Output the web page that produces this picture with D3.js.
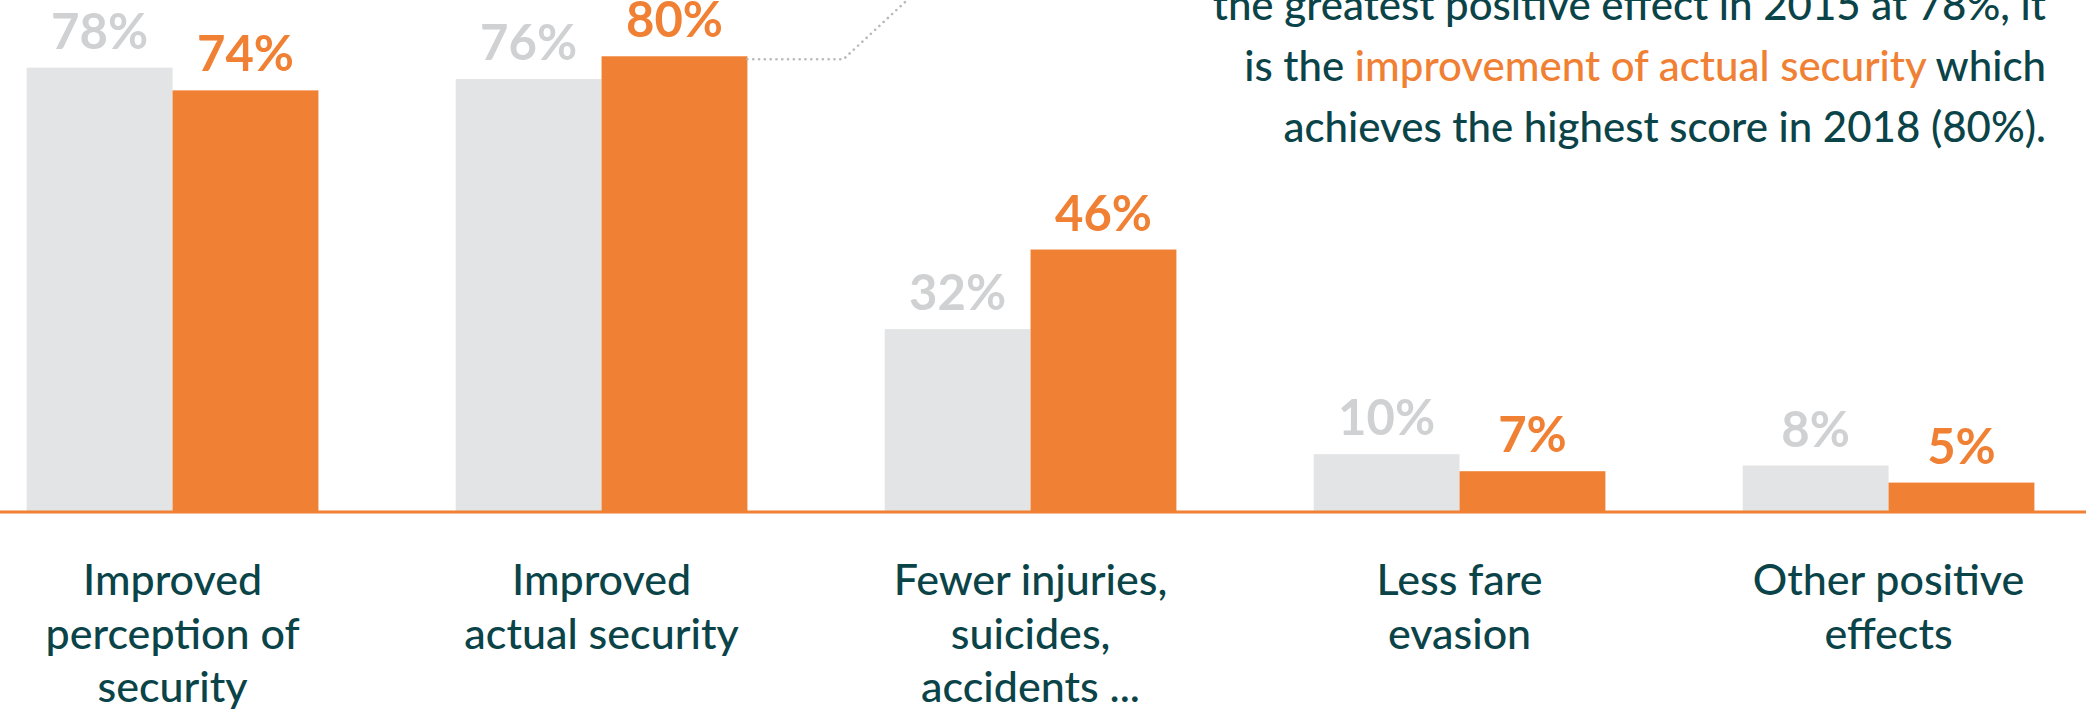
<!DOCTYPE html>
<html>
<head>
<meta charset="utf-8">
<script src="https://cdn.jsdelivr.net/npm/d3@7"></script>
<style>
  html, body { margin: 0; padding: 0; background: #ffffff; }
  svg { display: block; }
</style>
</head>
<body>
<div id="chart"></div>
<script>
// ---- data ----
const categories = [
  "Improved perception of security",
  "Improved actual security",
  "Fewer injuries, suicides, accidents ...",
  "Less fare evasion",
  "Other positive effects"
];
const categoryLines = [
  ["Improved", "perception of", "security"],
  ["Improved", "actual security"],
  ["Fewer injuries,", "suicides,", "accidents ..."],
  ["Less fare", "evasion"],
  ["Other positive", "effects"]
];
const years = ["2015", "2018"];
const values2015 = [78, 76, 32, 10, 8];
const values2018 = [74, 80, 46, 7, 5];
const annotationLines = [
  [{t: "the greatest positive effect in 2015 at 78%, it", h: false}],
  [{t: "is the ", h: false}, {t: "improvement of actual security", h: true}, {t: " which", h: false}],
  [{t: "achieves the highest score in 2018 (80%).", h: false}]
];

// ---- styles ----
const W = 2097, H = 720;
const GREY = "#e3e4e5", GREY_TEXT = "#d0d1d3", ORANGE = "#f08033", TEAL = "#0b4448";
const FONT = "Lato, 'Open Sans', sans-serif";

const svg = d3.select("#chart").append("svg")
  .attr("width", W).attr("height", H);
svg.append("rect").attr("width", W).attr("height", H).attr("fill", "#fff");

const x0 = d3.scaleBand().domain(categories).range([26.7, 2034.4])
  .paddingInner(0.32).paddingOuter(0);
const x1 = d3.scaleBand().domain(years).range([0, x0.bandwidth()]);
const baseY = 511;
const y = d3.scaleLinear().domain([0, 100]).range([baseY, baseY - 568.4]);

const rows = categories.map((c, i) => ({
  cat: c,
  vals: [
    {year: "2015", v: values2015[i]},
    {year: "2018", v: values2018[i]}
  ]
}));

const groups = svg.append("g").selectAll("g").data(rows).join("g")
  .attr("transform", d => `translate(${x0(d.cat)},0)`);

groups.selectAll("rect").data(d => d.vals).join("rect")
  .attr("x", d => x1(d.year))
  .attr("y", d => y(d.v))
  .attr("width", x1.bandwidth())
  .attr("height", d => baseY - y(d.v))
  .attr("fill", d => d.year === "2015" ? GREY : ORANGE);

groups.selectAll("text").data(d => d.vals).join("text")
  .attr("x", d => x1(d.year) + x1.bandwidth() / 2)
  .attr("y", d => y(d.v) - 19)
  .attr("text-anchor", "middle")
  .attr("font-family", FONT)
  .attr("font-size", 49)
  .attr("font-weight", 700)
  .attr("fill", d => d.year === "2015" ? GREY_TEXT : ORANGE)
  .text(d => d.v + "%");

// baseline
svg.append("line")
  .attr("x1", 0).attr("x2", 2086)
  .attr("y1", baseY + 1).attr("y2", baseY + 1)
  .attr("stroke", ORANGE).attr("stroke-width", 3);

// category axis
const axis = svg.append("g")
  .attr("transform", `translate(0,${baseY + 1})`)
  .call(d3.axisBottom(x0).tickSize(0).tickPadding(0));
axis.select(".domain").remove();
axis.selectAll(".tick text")
  .attr("dy", null)
  .attr("y", null)
  .attr("font-family", FONT)
  .attr("font-size", 43)
  .attr("font-weight", 500)
  .attr("fill", TEAL)
  .each(function(d) {
    const lines = categoryLines[categories.indexOf(d)];
    const t = d3.select(this).text("");
    lines.forEach((ln, i) => {
      t.append("tspan").attr("x", 0).attr("y", 83 + i * 53.5).text(ln);
    });
  });

// leader line from the 2018 "actual security" bar to the annotation
const leadStartX = x0(categories[1]) + x1("2018") + x1.bandwidth();
const leadY = y(values2018[1]) + 3;
svg.append("path")
  .attr("d", `M${leadStartX},${leadY} H${leadStartX + 96} L${leadStartX + 162},-2`)
  .attr("fill", "none")
  .attr("stroke", "#b9babc")
  .attr("stroke-width", 2.6)
  .attr("stroke-linecap", "round")
  .attr("stroke-dasharray", "0.1 5.7");

// annotation
const ann = svg.append("text")
  .attr("text-anchor", "end")
  .attr("font-family", FONT)
  .attr("font-size", 42)
  .attr("font-weight", 500)
  .attr("fill", TEAL);
annotationLines.forEach((parts, i) => {
  parts.forEach((p, j) => {
    const ts = ann.append("tspan").text(p.t).attr("fill", p.h ? ORANGE : TEAL);
    if (j === 0) ts.attr("x", 2046).attr("y", 20 + i * 61);
  });
});
</script>
</body>
</html>
